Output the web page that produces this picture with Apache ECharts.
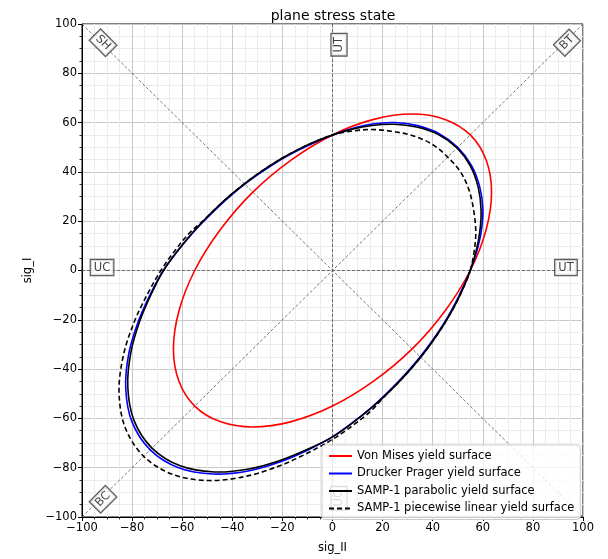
<!DOCTYPE html>
<html>
<head>
<meta charset="utf-8">
<script src="https://cdn.jsdelivr.net/npm/echarts@6/dist/echarts.min.js"></script>
<style>
html,body{margin:0;padding:0;background:#fff;}
#c{width:608px;height:559px;}
</style>
</head>
<body>
<div id="c"></div>
<script>
// ---- data ----
const seriesNames = ['Von Mises yield surface','Drucker Prager yield surface','SAMP-1 parabolic yield surface','SAMP-1 piecewise linear yield surface'];

const vonMises = [[55,55],[44.9,61.3],[31.8,63.5],[16.4,61.3],[0,55],[-16.4,44.9],[-31.8,31.8],[-44.9,16.4],[-55,0],[-61.3,-16.4],[-63.5,-31.8],[-61.3,-44.9],[-55,-55],[-44.9,-61.3],[-31.8,-63.5],[-16.4,-61.3],[0,-55],[16.4,-44.9],[31.8,-31.8],[44.9,-16.4],[55,0],[61.3,16.4],[63.5,31.8],[61.3,44.9],[55,55]];

const druckerPrager = [[55,0],[57.54,7.57],[59.4,15.92],[60.02,24.86],[58.78,33.94],[55.51,42.59],[49.96,49.96],[42.59,55.51],[33.94,58.78],[24.86,60.02],[15.92,59.4],[7.57,57.54],[0,55],[-6.85,52.06],[-13.15,49.09],[-19.01,45.9],[-24.54,42.5],[-29.84,38.89],[-35,35],[-40.12,30.79],[-45.26,26.13],[-50.5,20.92],[-56,15.01],[-61.63,8.11],[-67.5,0],[-72.69,-9.57],[-77.57,-20.79],[-81.31,-33.68],[-82.55,-47.66],[-80.04,-61.42],[-72.76,-72.76],[-61.42,-80.04],[-47.66,-82.55],[-33.68,-81.31],[-20.79,-77.57],[-9.57,-72.69],[0,-67.5],[8.11,-61.63],[15.01,-56],[20.92,-50.5],[26.13,-45.26],[30.79,-40.12],[35,-35],[38.89,-29.84],[42.5,-24.54],[45.9,-19.01],[49.09,-13.15],[52.06,-6.85],[55,0]];

const sampParabolic = [[55,0],[57.25,7.54],[58.81,15.76],[59.31,24.57],[58.2,33.6],[55.12,42.29],[49.7,49.7],[42.29,55.12],[33.6,58.2],[24.57,59.31],[15.76,58.81],[7.54,57.25],[0,55],[-6.89,52.32],[-13.22,49.34],[-19.11,46.13],[-24.66,42.72],[-29.99,39.08],[-35.18,35.18],[-40.32,30.94],[-45.48,26.26],[-50.75,21.02],[-56.17,15.05],[-61.75,8.13],[-67.5,0],[-72.33,-9.52],[-76.96,-20.62],[-80.51,-33.35],[-81.73,-47.19],[-79.25,-60.81],[-72.05,-72.05],[-60.81,-79.25],[-47.19,-81.73],[-33.35,-80.51],[-20.62,-76.96],[-9.52,-72.33],[0,-67.5],[8.13,-61.75],[15.05,-56.17],[21.02,-50.75],[26.26,-45.48],[30.94,-40.32],[35.18,-35.18],[39.08,-29.99],[42.72,-24.66],[46.13,-19.11],[49.34,-13.22],[52.32,-6.89],[55,0]];

const sampLinear = [[55,0],[56.5,7.4],[57.2,15.3],[56.5,23.4],[54.8,31.7],[51.4,39.5],[46,46],[39.5,51.4],[31.7,54.8],[23.4,56.5],[15.3,57.2],[7.4,56.5],[0,55],[-6.89,52.32],[-13.22,49.34],[-19.11,46.13],[-24.66,42.72],[-29.99,39.08],[-35.18,35.18],[-40.32,30.94],[-45.48,26.26],[-50.75,21.02],[-57,15.3],[-62.76,8.26],[-68.5,0],[-73.96,-9.74],[-79.3,-21.25],[-83.52,-34.6],[-85.22,-49.2],[-82.83,-63.56],[-75.38,-75.38],[-63.56,-82.83],[-49.2,-85.22],[-34.6,-83.52],[-21.25,-79.3],[-9.74,-73.96],[0,-68.5],[8.26,-62.76],[15.3,-57],[21.02,-50.75],[26.26,-45.48],[30.94,-40.32],[35.18,-35.18],[39.08,-29.99],[42.72,-24.66],[46.13,-19.11],[49.34,-13.22],[52.32,-6.89],[55,0]];

// reference (load path) lines
const refLines = [
  [[-100,100],[100,-100]],
  [[-100,-100],[100,100]],
  [[-100,0],[100,0]],
  [[0,-100],[0,100]]
];
// load path annotations: text, position, rotation
const annoText = ['SH','BT','BC','UT','UC','UT','UC'];
const annoPos  = [[-91.6,92.4],[93.6,92.4],[-91.6,-92.8],[93.2,1.2],[-92,1.2],[2.6,91.6],[2.6,-92.4]];
const annoRot  = [-45,45,45,0,0,90,90];

const axisMin = -100, axisMax = 100, axisStep = 20;

// ---- chart ----
const FONT = 'DejaVu Sans';
const chart = echarts.init(document.getElementById('c'), null, {renderer:'canvas'});
const fmt = v => String(v).replace('-', '\u2212');

function axisCommon(name, gap){
  return {
    type:'value', min:axisMin, max:axisMax, interval:axisStep,
    name:name, nameLocation:'middle', nameGap:gap,
    nameTextStyle:{fontFamily:FONT, fontSize:11.5, color:'#000'},
    axisLine:{show:true, onZero:false, lineStyle:{color:'#000', width:1}},
    axisTick:{show:true, length:4, lineStyle:{color:'#000', width:1}},
    minorTick:{show:true, splitNumber:4, length:2.5, lineStyle:{color:'#000', width:0.8}},
    axisLabel:{fontFamily:FONT, fontSize:11.5, color:'#000', margin:5, formatter:fmt},
    splitLine:{show:true, lineStyle:{color:'#c8c8c8', width:1}},
    minorSplitLine:{show:true, lineStyle:{color:'#ececec', width:1}}
  };
}

// closed Catmull-Rom loop through pixel points -> SVG path data
function loopPath(pts){
  const n = pts.length;
  let s = 'M' + pts[0][0] + ',' + pts[0][1];
  for (let i = 0; i < n; i++){
    const p0 = pts[(i-1+n)%n], p1 = pts[i], p2 = pts[(i+1)%n], p3 = pts[(i+2)%n];
    const c1x = p1[0] + (p2[0]-p0[0])/6, c1y = p1[1] + (p2[1]-p0[1])/6;
    const c2x = p2[0] - (p3[0]-p1[0])/6, c2y = p2[1] - (p3[1]-p1[1])/6;
    s += 'C' + c1x + ',' + c1y + ',' + c2x + ',' + c2y + ',' + p2[0] + ',' + p2[1];
  }
  return s + 'Z';
}

const series = [];
refLines.forEach(d => series.push({
  type:'line', data:d, symbol:'none', silent:true, z:1,
  lineStyle:{color:'#555', width:0.8, type:[3,2]}
}));

const curveData = [vonMises, druckerPrager, sampParabolic, sampLinear];
const curveColor = ['#ff0000','#0000ff','#000000','#000000'];
const curveType = ['solid','solid','solid',[5,3]];
const LW = 1.6;

// legend-only line series (carry the names / styles for the legend)
curveData.forEach((d,i) => series.push({
  name:seriesNames[i], type:'line', data:[], symbol:'none',
  lineStyle:{color:curveColor[i], width:LW, type:curveType[i]},
  itemStyle:{color:curveColor[i]}
}));

// the closed curves, drawn as smooth loops through the cartesian scales
curveData.forEach((d,i) => series.push({
  type:'custom', coordinateSystem:'cartesian2d', silent:true, z:3+i,
  data:[d[0]],
  renderItem:(params, api) => {
    const pts = d.slice(0, d.length-1).map(p => api.coord(p));
    return {
      type:'path',
      shape:{pathData: loopPath(pts)},
      style:{fill:'none', stroke:curveColor[i], lineWidth:LW,
             lineDash: curveType[i]==='solid' ? null : curveType[i]}
    };
  }
}));

series.push({
  type:'scatter', symbolSize:1, silent:true, z:10,
  itemStyle:{color:'rgba(0,0,0,0)'},
  data: annoText.map((t,i) => ({
    value: annoPos[i], name:t,
    label:{show:true, rotate:annoRot[i]}
  })),
  label:{
    show:true, position:'inside', formatter: p => p.name,
    fontFamily:FONT, fontSize:11.5, color:'#111',
    backgroundColor:'#fff', borderColor:'#333', borderWidth:1.2,
    padding:[2,3,1,3]
  }
});

chart.setOption({
  animation:false,
  backgroundColor:'#fff',
  title:{
    text:'plane stress state', left:328, top:4, textAlign:'center',
    textStyle:{fontFamily:FONT, fontSize:14, fontWeight:'normal', color:'#000'}
  },
  grid:{left:82, right:25, top:24, bottom:37, show:true, borderColor:'#000', borderWidth:1, backgroundColor:'transparent'},
  xAxis: axisCommon('sig_II', 25),
  yAxis: axisCommon('sig_I', 36),
  legend:{
    data:seriesNames, orient:'vertical', left:322, top:445,
    itemWidth:23, itemHeight:12, itemGap:5.5,
    padding:[5,6,5,6],
    backgroundColor:'rgba(255,255,255,0.8)', borderColor:'#ccc', borderWidth:1, borderRadius:3,
    textStyle:{fontFamily:FONT, fontSize:11.5, color:'#000'},
    itemStyle:{color:'rgba(0,0,0,0)', borderColor:'rgba(0,0,0,0)', borderWidth:0},
    z:20
  },
  series: series
});
</script>
</body>
</html>
